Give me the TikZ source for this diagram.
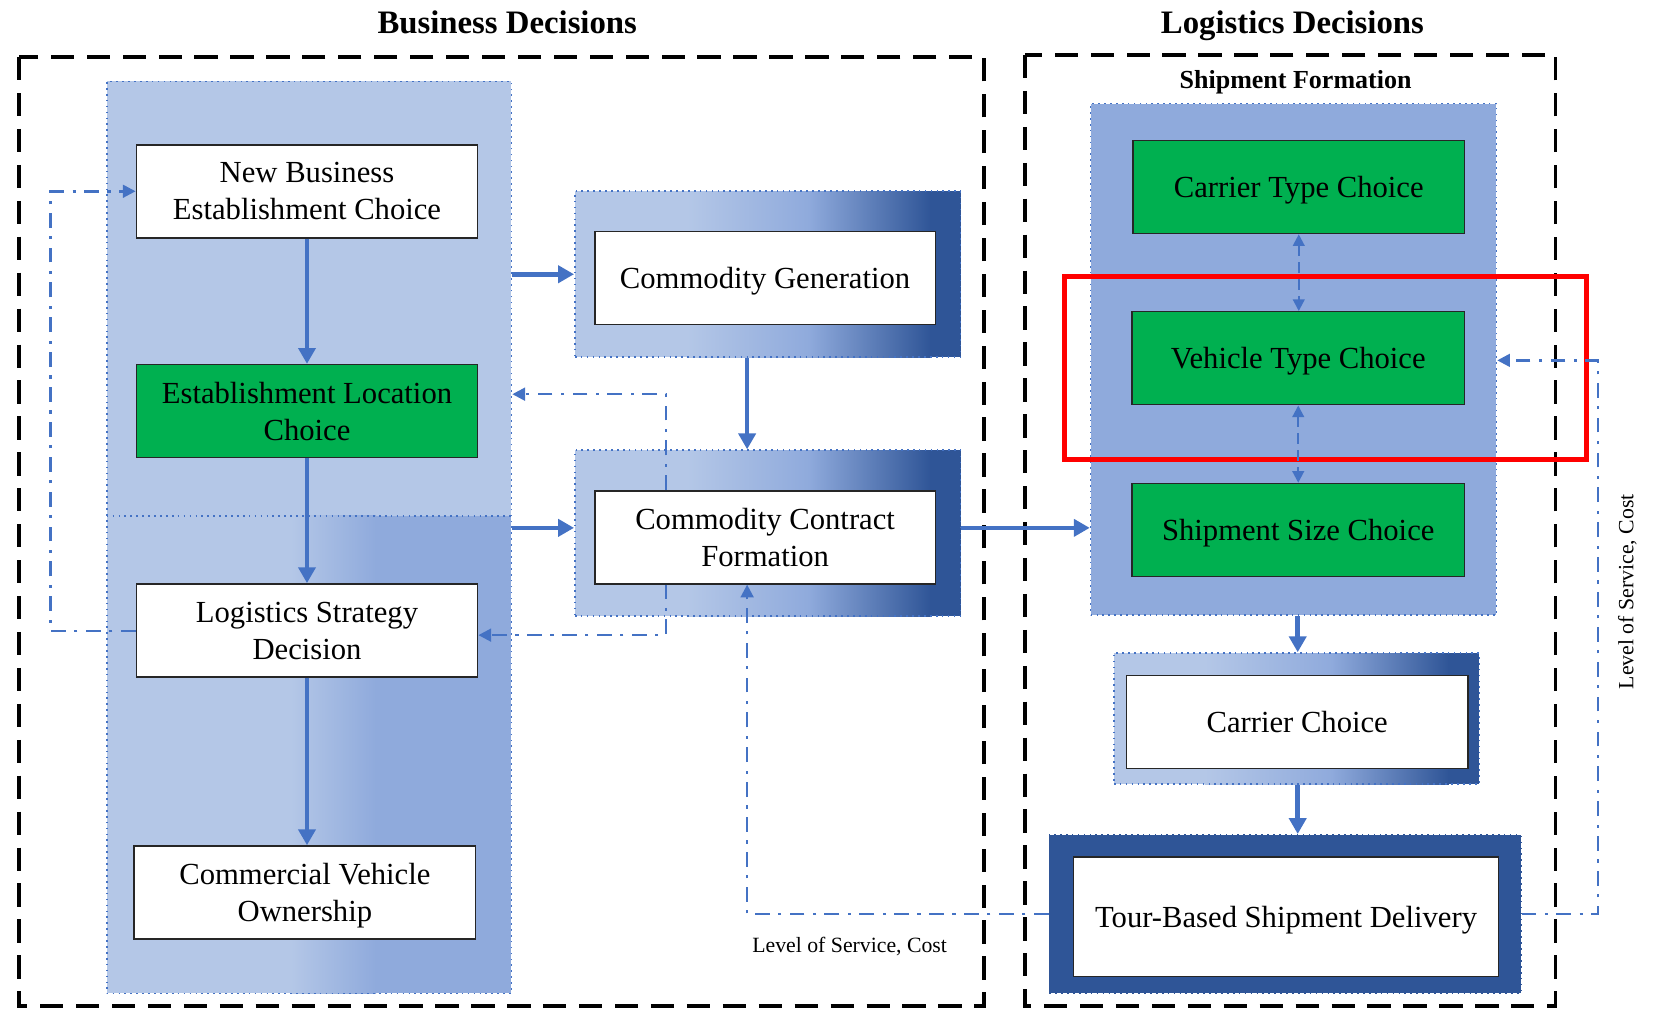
\documentclass[tikz,border=0pt]{standalone}
\usepackage{fontspec}
\setmainfont{Liberation Serif}
\usetikzlibrary{arrows.meta}
\definecolor{lb}{HTML}{B4C7E7}
\definecolor{mb}{HTML}{8FAADC}
\definecolor{db}{HTML}{2F5597}
\definecolor{ab}{HTML}{4472C4}
\definecolor{gr}{HTML}{00B050}
\tikzset{
  box/.style={draw=black!85, line width=0.7pt, fill=white, align=center, inner sep=0pt,
    font=\fontsize{14.5}{17.5}\selectfont, text depth=0pt, minimum width=161.5pt, minimum height=44pt},
  gbox/.style={box, fill=gr},
  panel/.style={draw=ab, dotted, line width=0.8pt, inner sep=0pt},
  flow/.style={draw=ab, line width=2.2pt, -{Triangle[length=7.5pt,width=8pt]}},
  dd/.style={draw=ab, line width=1.2pt, dash pattern=on 7pt off 4pt on 1.5pt off 4pt, -{Triangle[length=6pt,width=6pt]}},
  dbl/.style={draw=ab, line width=1pt, dash pattern=on 5pt off 3pt, {Triangle[length=5.5pt,width=5.5pt]}-{Triangle[length=5.5pt,width=5.5pt]}},
  frame/.style={draw=black, line width=1.8pt, dash pattern=on 11pt off 6pt},
  ttl/.style={font=\fontsize{15.5}{18}\selectfont\bfseries, anchor=base},
  subttl/.style={font=\fontsize{12.3}{14}\selectfont\bfseries, anchor=base},
  lab/.style={font=\fontsize{10.3}{12}\selectfont}
}
\begin{document}
\begin{tikzpicture}[x=0.5pt,y=-0.5pt]
\useasboundingbox (0,0) rectangle (1568,955);
% ---------- shadings ----------
% left panel
\fill[lb] (101,77) rectangle (484,489);
\fill[lb] (101,488) rectangle (276,940);
\shade[left color=lb, right color=mb] (275,488) rectangle (356,940);
\fill[mb] (355,488) rectangle (484,940);
% commodity generation panel
\fill[lb] (544,181) rectangle (651,338);
\shade[left color=lb, right color=mb] (650,181) rectangle (766,338);
\shade[left color=mb, right color=db] (765,181) rectangle (881,338);
\fill[db] (880,181) rectangle (909,338);
% commodity contract panel
\fill[lb] (544,426) rectangle (651,583);
\shade[left color=lb, right color=mb] (650,426) rectangle (766,583);
\shade[left color=mb, right color=db] (765,426) rectangle (881,583);
\fill[db] (880,426) rectangle (909,583);
% shipment formation panel
\fill[mb] (1032,98) rectangle (1416,582);
% carrier choice panel
\fill[lb] (1054,618) rectangle (1141,742);
\shade[left color=lb, right color=mb] (1140,618) rectangle (1261,742);
\shade[left color=mb, right color=db] (1260,618) rectangle (1371,742);
\fill[db] (1370,618) rectangle (1400,742);
% tour panel
\fill[db] (993,790) rectangle (1439,940);

% ---------- frames ----------
\draw[frame] (18,54) rectangle (931,952);
\draw[frame] (970,52) rectangle (1472,952);

% ---------- titles ----------
\node[ttl] (t1) at (480,32) {Business Decisions};
\node[ttl] (t2) at (1223,32) {Logistics Decisions};
\node[subttl] (t3) at (1226,84) {Shipment Formation};

% ---------- panels ----------
\node[panel, minimum width=191.5pt, minimum height=431.5pt] (lp) at (292.5,508.5) {};
\draw[draw=ab, dotted, line width=0.8pt] (101,488) -- (484,488);
\node[panel, minimum width=182.5pt, minimum height=78.5pt] (cgp) at (726.5,259.5) {};
\node[panel, minimum width=182.5pt, minimum height=78.5pt] (ccfp) at (726.5,504.5) {};
\node[panel, minimum width=192pt, minimum height=242pt] (sfp) at (1224,340) {};
\node[panel, minimum width=173pt, minimum height=62pt] (ccp) at (1227,680) {};
\node[panel, draw=db, minimum width=223pt, minimum height=75pt] (tbp) at (1216,865) {};

% ---------- boxes ----------
\node[box] (nb) at (290.5,181) {New Business\\Establishment Choice};
\node[gbox] (el) at (290.5,389) {Establishment Location\\Choice};
\node[box] (ls) at (290.5,596.5) {Logistics Strategy\\Decision};
\node[box] (cvo) at (288.5,844.5) {Commercial Vehicle\\Ownership};
\node[box, minimum width=161pt] (cg) at (724,263) {Commodity Generation};
\node[box, minimum width=161pt] (ccf) at (724,508.5) {Commodity Contract\\Formation};
\node[gbox, minimum width=157pt] (ctc) at (1229,177) {Carrier Type Choice};
\node[gbox, minimum width=157.5pt] (vtc) at (1228.5,339) {Vehicle Type Choice};
\node[gbox, minimum width=157.5pt] (ssc) at (1228.5,501.5) {Shipment Size Choice};
\node[box] (cc) at (1227.5,683) {Carrier Choice};
\node[box, minimum width=201pt, minimum height=56.5pt] (tb) at (1217,867.5) {Tour-Based Shipment Delivery};

% ---------- highlight ----------
\draw[red, line width=2.3pt] (1007,262) rectangle (1501,435);

% ---------- solid flows ----------
\draw[flow] (nb.south) -- (el.north);
\draw[flow] (el.south) -- (ls.north);
\draw[flow] (ls.south) -- (ls.south |- cvo.north);
\draw[flow] (lp.east |- cgp.west) -- (cgp.west);
\draw[flow] ([yshift=2.5pt]lp.east |- ccfp.west) -- ([yshift=2.5pt]ccfp.west);
\draw[flow] ([xshift=-9.75pt]cgp.south) -- ([xshift=-9.75pt]ccfp.north);
\draw[flow] ([yshift=2.5pt]ccfp.east) -- ([yshift=2.5pt]ccfp.east -| sfp.west);
\draw[flow] ([xshift=2pt]sfp.south) -- ([xshift=2pt]sfp.south |- ccp.north);
\draw[flow] ([xshift=0.5pt]ccp.south) -- ([xshift=0.5pt]ccp.south |- tbp.north);

% ---------- dashed double arrows ----------
\draw[dbl] (ctc.south) -- (ctc.south |- vtc.north);
\draw[dbl] (vtc.south) -- (ssc.north);

% ---------- dash-dot feedback ----------
\coordinate (d1) at (630,373);
\coordinate (d2) at (630,601);
\coordinate (lx) at (48,597);
\coordinate (bx) at (707,865);
\coordinate (rx) at (1512,865);
\draw[dd] (ccf.north -| d1) -- (d1) -- (d1 -| lp.east);
\draw[dd] (ccf.south -| d2) -- (d2) -- (d2 -| ls.east);
\draw[dd] (ls.west |- lx) -- (lx) -- (lx |- nb.west) -- (nb.west);
\draw[dd] (tbp.west) -- (bx) -- (bx |- ccf.south);
\draw[dd] (tbp.east) -- (rx) -- ([yshift=-1pt]rx |- vtc.east) -- ([yshift=-1pt]sfp.east |- vtc.east);

% ---------- labels ----------
\node[lab] (l1) at (804,896) {Level of Service, Cost};
\node[lab, rotate=90] (l2) at (1540,560) {Level of Service, Cost};
\end{tikzpicture}
\end{document}
